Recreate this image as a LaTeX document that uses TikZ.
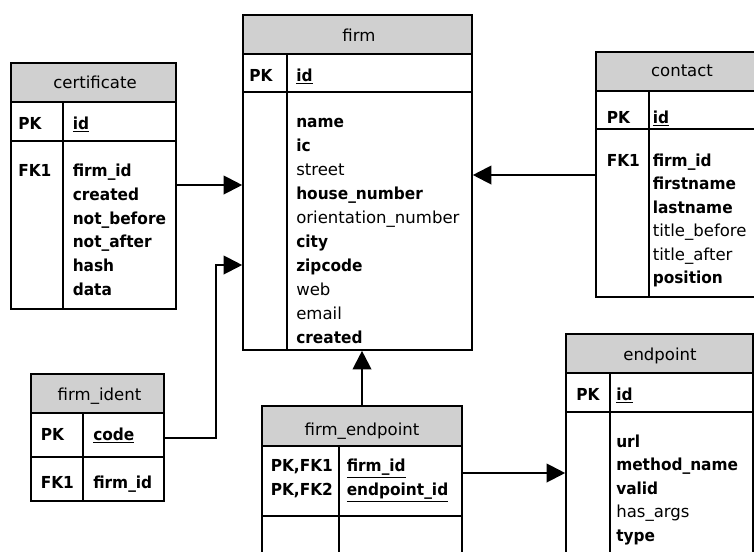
\documentclass[tikz,border=0pt]{standalone}
\usepackage{fontspec}
\setmainfont{DejaVu Sans}[BoldFeatures={FakeStretch=0.93}]
\usetikzlibrary{arrows.meta,fit}

\definecolor{headgray}{RGB}{208,208,208}

% one table: name, left, right, top, header bottom, key-row bottom, bottom, divider x
\newcommand\ertable[8]{%
  \node[headbox, fit={(#2,#4) (#3,#5)}] (#1-h) {};
  \node[tblbox, fit={(#2,#5) (#3,#6)}] (#1-pk) {};
  \node[tblbox, fit={(#2,#6) (#3,#7)}] (#1-b) {};
  \draw[tblline] (#8,#5) -- (#8,#7);
}

\begin{document}
\begin{tikzpicture}[x=0.75pt,y=-0.75pt,
  tblline/.style={draw=black, line width=1.2pt},
  tblbox/.style={tblline, inner sep=0pt, rectangle},
  headbox/.style={tblbox, fill=headgray},
  txt/.style={font=\fontsize{12.4pt}{18pt}\selectfont, inner sep=0pt, anchor=base west},
  ttl/.style={txt, anchor=base},
  fk/.style={draw=black, line width=1.6pt, -{Triangle[length=14pt,width=14pt]}}]

\useasboundingbox (0,0) rectangle (754,551);
\clip (0,0) rectangle (754,551);

% firm
\ertable{firm}{243}{472}{15}{54}{92}{350}{287}
\node[ttl] (firm-t) at (359,41.5) {firm};
\node[txt] (firm-k) at (249,81.5) {\textbf{PK}};
\node[txt] (firm-id) at (296,81.5) {\underline{\textbf{id}}};
\foreach \t [count=\i from 0] in {\textbf{name},\textbf{ic},street,\textbf{house\_number},orientation\_number,\textbf{city},\textbf{zipcode},web,email,\textbf{created}}
  \node[txt] (firm-f\i) at (296,127.8+24*\i) {\t};

% certificate
\ertable{cert}{11}{176}{63}{102}{141}{309}{63}
\node[ttl] (cert-t) at (95,88) {certificate};
\node[txt] (cert-k) at (18,129) {\textbf{PK}};
\node[txt] (cert-id) at (72.5,129) {\underline{\textbf{id}}};
\node[txt] (cert-fk) at (18,176.7) {\textbf{FK1}};
\foreach \t [count=\i from 0] in {firm\_id,created,not\_before,not\_after,hash,data}
  \node[txt] (cert-f\i) at (72.5,176.7+23.7*\i) {\textbf{\t}};

% contact
\ertable{cont}{596}{768}{52}{91}{129}{297}{649}
\node[ttl] (cont-t) at (682,76.5) {contact};
\node[txt] (cont-k) at (606.5,123) {\textbf{PK}};
\node[txt] (cont-id) at (652.5,123) {\underline{\textbf{id}}};
\node[txt] (cont-fk) at (606.5,166.5) {\textbf{FK1}};
\foreach \t [count=\i from 0] in {\textbf{firm\_id},\textbf{firstname},\textbf{lastname},title\_before,title\_after,\textbf{position}}
  \node[txt] (cont-f\i) at (652.5,166.5+23.4*\i) {\t};

% firm_ident
\ertable{ident}{31}{164}{374}{413}{457}{501}{83}
\node[ttl] (ident-t) at (99.5,400) {firm\_ident};
\node[txt] (ident-k) at (40.5,440) {\textbf{PK}};
\node[txt] (ident-code) at (93,440) {\underline{\textbf{code}}};
\node[txt] (ident-fk) at (40.5,488) {\textbf{FK1}};
\node[txt] (ident-f0) at (93,488) {\textbf{firm\_id}};

% firm_endpoint
\ertable{fe}{262}{462}{406}{446}{516}{580}{339}
\node[ttl] (fe-t) at (362,435) {firm\_endpoint};
\node[txt] (fe-k1) at (270.5,471.7) {\textbf{PK,FK1}};
\node[txt] (fe-k2) at (270.5,495) {\textbf{PK,FK2}};
\node[txt] (fe-f0) at (346.5,471.7) {\underline{\textbf{firm\_id}}};
\node[txt] (fe-f1) at (346.5,495) {\underline{\textbf{endpoint\_id}}};

% endpoint
\ertable{ep}{566}{753}{334}{373}{412}{580}{610}
\node[ttl] (ep-t) at (660,360) {endpoint};
\node[txt] (ep-k) at (576,400) {\textbf{PK}};
\node[txt] (ep-id) at (616,400) {\underline{\textbf{id}}};
\foreach \t [count=\i from 0] in {\textbf{url},\textbf{method\_name},\textbf{valid},has\_args,\textbf{type}}
  \node[txt] (ep-f\i) at (616,447+23.5*\i) {\t};

% foreign-key connectors
\coordinate (cert-out) at (176,185);
\draw[fk] (cert-out) -- (cert-out -| firm-b.west);

\coordinate (cont-out) at (596,175);
\draw[fk] (cont-out) -- (cont-out -| firm-b.east);

\coordinate (ident-out) at (164,438);
\coordinate (ident-bend) at (216,265);
\draw[fk] (ident-out) -| (ident-bend) -- (ident-bend -| firm-b.west);

\draw[fk] (fe-h.north) -- (fe-h.north |- firm-b.south);

\coordinate (fe-out) at (462,473);
\draw[fk] (fe-out) -- (fe-out -| ep-b.west);

\end{tikzpicture}
\end{document}
